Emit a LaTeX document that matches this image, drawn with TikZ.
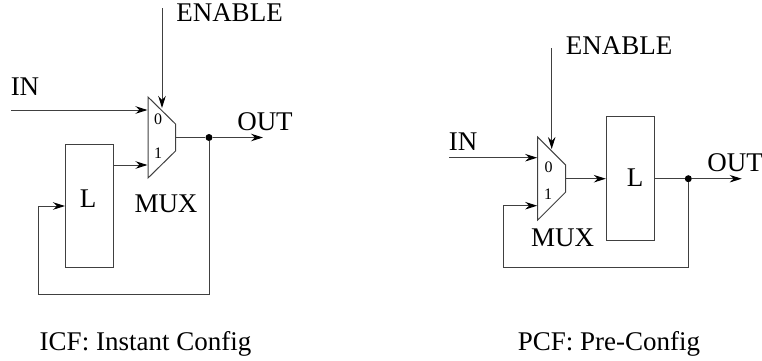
\documentclass[tikz,border=0pt]{standalone}
\usepackage{fontspec}
\setmainfont{Liberation Serif}
\usetikzlibrary{arrows.meta}
\tikzset{
 wire/.style={line width=1pt,black!75},
 sig/.style={wire,-{Stealth[length=12pt,width=7.5pt,black]}},
 latch/.style={draw,line width=1pt,black!75,text=black,minimum width=48pt,inner sep=0pt},
 junct/.style={circle,fill=black,inner sep=0pt,minimum size=7pt},
 txt/.style={inner sep=0pt,font=\fontsize{27}{27}\selectfont},
 sel/.style={inner sep=0pt,font=\fontsize{16}{16}\selectfont},
}
\begin{document}
\begin{tikzpicture}[x=1pt,y=-1pt]
 \useasboundingbox (0,0) rectangle (762,360);
 % instant config
 \coordinate (ma) at (148,97);
 \coordinate (mb) at (175.5,124);
 \coordinate (mc) at (175.5,151);
 \coordinate (md) at (148,178);
 \draw[wire] (ma)--(mb)--(mc)--(md)--cycle;
 \node[latch,minimum height=122.5pt] (la) at (89.5,205.75) {};
 \node[txt] (lt) at (88,199) {L};
 \node[sel] (zero) at (158,119) {0};
 \node[sel] (one) at (158,153) {1};
 \node[txt] (mux) at (166,204) {MUX};
 \node[txt] (in) at (25,87) {IN};
 \node[txt] (en) at (229.5,12.5) {ENABLE};
 \node[txt] (out) at (265,122) {OUT};
 \coordinate (ent) at (162,8);
 \coordinate (enb) at (162,108);
 \coordinate (ins) at (11,110);
 \coordinate (ine) at (147.5,110);
 \coordinate (lo) at (la.east |- 0,165);
 \coordinate (le) at (147.5,165);
 \coordinate (mo) at (175.5,137.5);
 \node[junct] (dot) at (209,137.5) {};
 \coordinate (oe) at (263,137.5);
 \coordinate (fa) at (209,294.5);
 \coordinate (fb) at (38.5,294.5);
 \coordinate (fc) at (38.5,206);
 \coordinate (fd) at (la.west |- fc);
 \draw[sig] (ent)--(enb);
 \draw[sig] (ins)--(ine);
 \draw[sig] (lo)--(le);
 \draw[wire] (mo)--(dot);
 \draw[sig] (dot)--(oe);
 \draw[sig] (dot)--(fa)--(fb)--(fc)--(fd);
 % pre config
 \coordinate (na) at (537.7,137);
 \coordinate (nb) at (565.7,165);
 \coordinate (nc) at (565.7,192);
 \coordinate (nd) at (537.7,220);
 \draw[wire] (na)--(nb)--(nc)--(nd)--cycle;
 \node[latch,minimum height=123.3pt] (lb) at (630.3,178.35) {};
 \node[txt] (lu) at (635,178) {L};
 \node[sel] (zerob) at (548.5,167) {0};
 \node[sel] (oneb) at (548,194) {1};
 \node[txt] (muxb) at (562.7,238) {MUX};
 \node[txt] (inb) at (463,142) {IN};
 \node[txt] (enb2) at (619,46) {ENABLE};
 \node[txt] (outb) at (735,163) {OUT};
 \coordinate (gt) at (551.7,48);
 \coordinate (gb) at (551.7,149);
 \coordinate (gs) at (449,157.7);
 \coordinate (ge) at (537.2,157.7);
 \coordinate (no) at (565.7,178.7);
 \coordinate (lx) at (lb.east |- no);
 \coordinate (ly) at (lb.west |- no);
 \node[junct] (dotb) at (688.3,178.7) {};
 \coordinate (pe) at (741.7,178.7);
 \coordinate (ha) at (688.3,267.3);
 \coordinate (hb) at (503.3,267.3);
 \coordinate (hc) at (503.3,205.7);
 \coordinate (hd) at (537.2,205.7);
 \draw[sig] (gt)--(gb);
 \draw[sig] (gs)--(ge);
 \draw[sig] (no)--(ly);
 \draw[wire] (lx)--(dotb);
 \draw[sig] (dotb)--(pe);
 \draw[sig] (dotb)--(ha)--(hb)--(hc)--(hd);
 % captions
 \node[txt,anchor=base] (capa) at (145.5,350) {ICF: Instant Config};
 \node[txt,anchor=base] (capb) at (609,350) {PCF: Pre-Config};
\end{tikzpicture}
\end{document}
